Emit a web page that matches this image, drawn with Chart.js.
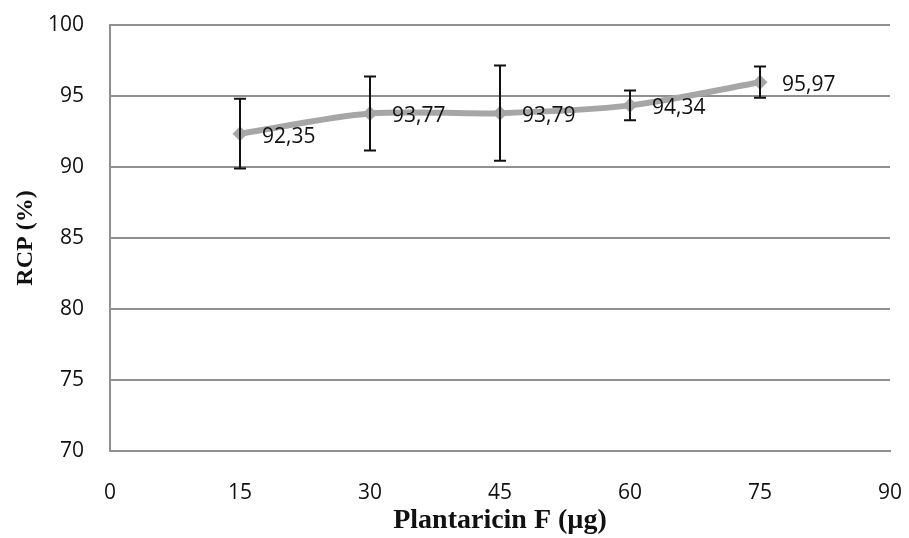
<!DOCTYPE html>
<html>
<head>
<meta charset="utf-8">
<script src="https://cdn.jsdelivr.net/npm/chart.js@4/dist/chart.umd.min.js"></script>
<style>
  html, body { margin: 0; padding: 0; background: #fff; }
  #wrap { width: 909px; height: 538px; }
</style>
</head>
<body>
<div id="wrap"><canvas id="c" width="909" height="538"></canvas></div>
<script>
  // Plantaricin F dose (µg) vs RCP (%), Excel-style line with error bars
  const doses = [15, 30, 45, 60, 75];
  const rcp = [92.35, 93.77, 93.79, 94.34, 95.97];
  const rcpErr = [2.45, 2.6, 3.35, 1.05, 1.1];
  const valueLabels = ['92,35', '93,77', '93,79', '94,34', '95,97'];

  const GRID = '#909090';
  const LINE = '#A6A6A6';

  // error bars + data labels, drawn on top of the series
  const errorBars = {
    id: 'errorBars',
    afterDatasetsDraw(chart) {
      const { ctx, scales: { x, y } } = chart;
      ctx.save();
      ctx.strokeStyle = '#111';
      ctx.lineWidth = 2;
      doses.forEach((d, i) => {
        const px = Math.round(x.getPixelForValue(d));
        const top = y.getPixelForValue(rcp[i] + rcpErr[i]);
        const bot = y.getPixelForValue(rcp[i] - rcpErr[i]);
        ctx.beginPath();
        ctx.moveTo(px, top); ctx.lineTo(px, bot);
        ctx.moveTo(px - 6, top); ctx.lineTo(px + 6, top);
        ctx.moveTo(px - 6, bot); ctx.lineTo(px + 6, bot);
        ctx.stroke();
      });
      ctx.fillStyle = '#111';
      ctx.font = '21px "Open Sans"';
      ctx.textAlign = 'left';
      ctx.textBaseline = 'middle';
      doses.forEach((d, i) => {
        const px = x.getPixelForValue(d);
        const py = y.getPixelForValue(rcp[i]);
        ctx.fillText(valueLabels[i], px + 22, py + 3);
      });
      ctx.restore();
    },
  };

  new Chart(document.getElementById('c'), {
    type: 'scatter',
    data: {
      datasets: [{
        data: doses.map((d, i) => ({ x: d, y: rcp[i] })),
        showLine: true,
        borderColor: LINE,
        borderWidth: 6,
        tension: 0.3,
        pointStyle: 'rectRot',
        pointRadius: 7.5,
        pointBackgroundColor: LINE,
        pointBorderColor: LINE,
        pointBorderWidth: 0,
      }],
    },
    options: {
      responsive: false,
      animation: false,
      layout: { padding: { top: 25, right: 19, left: 0, bottom: 0 } },
      plugins: { legend: { display: false }, tooltip: { enabled: false } },
      scales: {
        x: {
          type: 'linear',
          min: 0, max: 90,
          ticks: { stepSize: 15, color: '#111', padding: 21, font: { family: 'Open Sans', size: 21 } },
          grid: { display: false },
          border: { color: GRID, width: 2 },
          title: {
            display: true,
            text: 'Plantaricin F (µg)',
            color: '#111',
            font: { family: 'Liberation Serif', size: 28, weight: 'bold' },
            padding: { top: 0, bottom: 0 },
          },
          afterFit: (s) => { s.height = 87; s.paddingLeft = 0; s.paddingRight = 0; },
        },
        y: {
          min: 70, max: 100,
          ticks: { stepSize: 5, color: '#111', padding: 26, font: { family: 'Open Sans', size: 21 } },
          grid: { color: GRID, lineWidth: 2, drawTicks: false },
          border: { color: GRID, width: 2 },
          title: {
            display: true,
            text: 'RCP (%)',
            color: '#111',
            font: { family: 'Liberation Serif', size: 24, weight: 'bold' },
            padding: { top: 11, bottom: 0 },
          },
          afterFit: (s) => { s.width = 110; s.paddingTop = 0; s.paddingBottom = 0; },
        },
      },
    },
    plugins: [errorBars],
  });
</script>
</body>
</html>
